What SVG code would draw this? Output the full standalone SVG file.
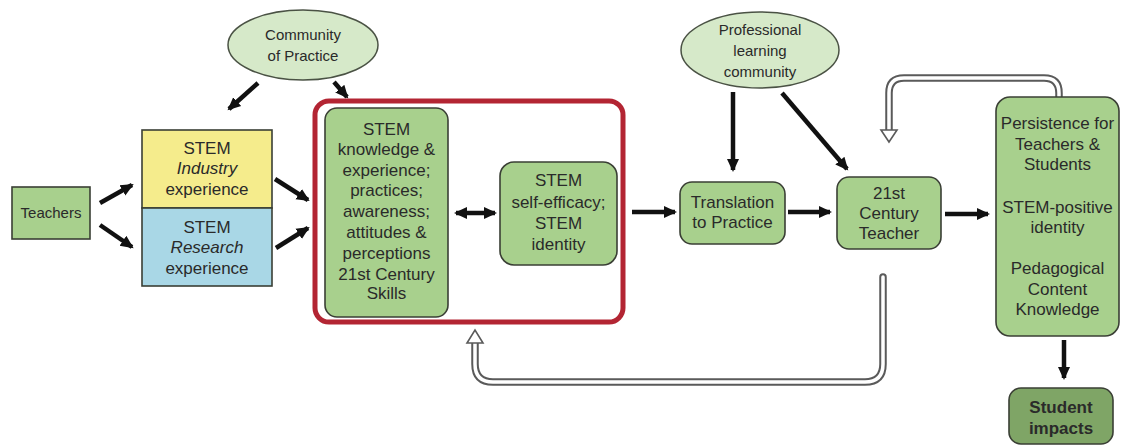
<svg xmlns="http://www.w3.org/2000/svg" width="1121" height="447" viewBox="0 0 1121 447">
<style>
text{font-family:"Liberation Sans",Arial,sans-serif;fill:#2a2a2a;text-anchor:middle}
.t17{font-size:17px}
.t15{font-size:15px}
.box{fill:#a8d08d;stroke:#3a3f35;stroke-width:1.6}
.ell{fill:#d6e9c9;stroke:#4a5244;stroke-width:1.5}
.arr{stroke:#111;stroke-width:4.5;fill:none;marker-end:url(#ah)}
.hout{fill:none;stroke:#5a5a5a;stroke-width:7.5;stroke-linecap:round}
.hin{fill:none;stroke:#fff;stroke-width:3.5;stroke-linecap:round}
.hhead{fill:#fff;stroke:#5a5a5a;stroke-width:1.6;stroke-linejoin:miter}
</style>
<defs>
<marker id="ah" markerUnits="userSpaceOnUse" markerWidth="14" markerHeight="14" viewBox="0 0 14 14" refX="11" refY="7" orient="auto">
<path d="M0,1 L13,7 L0,13 Z" fill="#111"/>
</marker>
<marker id="ahs" markerUnits="userSpaceOnUse" markerWidth="14" markerHeight="14" viewBox="0 0 14 14" refX="3" refY="7" orient="auto">
<path d="M14,1 L1,7 L14,13 Z" fill="#111"/>
</marker>
</defs>
<rect width="1121" height="447" fill="#fff"/>

<g id="connectors">
<line class="arr" x1="100" y1="203" x2="132" y2="185"/>
<line class="arr" x1="100" y1="225" x2="132" y2="247"/>
<line class="arr" x1="275" y1="179" x2="308" y2="200"/>
<line class="arr" x1="276" y1="248" x2="308" y2="228"/>
<line class="arr" x1="258" y1="83" x2="229" y2="109"/>
<line class="arr" x1="334" y1="82" x2="347" y2="97"/>
<line class="arr" x1="456" y1="213" x2="495" y2="213" marker-start="url(#ahs)"/>
<line class="arr" x1="632" y1="212" x2="675" y2="212"/>
<line class="arr" x1="788" y1="212" x2="830" y2="212"/>
<line class="arr" x1="945" y1="214" x2="988" y2="214"/>
<line class="arr" x1="733" y1="92" x2="733" y2="170"/>
<line class="arr" x1="782" y1="93" x2="847" y2="169"/>
<line class="arr" x1="1064" y1="340" x2="1064" y2="378"/>

<path class="hout" d="M1059,104 L1059,93 Q1059,78 1044,78 L904,78 Q889,78 889,93 L889,131"/>
<path class="hin" d="M1059,104 L1059,93 Q1059,78 1044,78 L904,78 Q889,78 889,93 L889,133"/>
<polygon class="hhead" points="881,130 897,130 889,142"/>

<path class="hout" d="M883,277 L883,364 Q883,382 865,382 L493,382 Q475,382 475,364 L475,343"/>
<path class="hin" d="M883,277 L883,364 Q883,382 865,382 L493,382 Q475,382 475,364 L475,341"/>
<polygon class="hhead" points="467,343 483,343 475,330"/>
</g>

<g id="community">
<ellipse class="ell" cx="303" cy="45" rx="75" ry="35"/>
<text class="t15" x="303" y="40">Community</text>
<text class="t15" x="303" y="61">of Practice</text>
</g>

<g id="plc">
<ellipse class="ell" cx="760" cy="50" rx="79" ry="38"/>
<text class="t15" x="760" y="35">Professional</text>
<text class="t15" x="760" y="56">learning</text>
<text class="t15" x="760" y="77">community</text>
</g>

<g id="teachers">
<rect x="12" y="187" width="78" height="52" fill="#a8d08d" stroke="#3a3f35" stroke-width="1.6"/>
<text class="t15" x="51" y="218">Teachers</text>
</g>

<g id="industry">
<rect x="142" y="130" width="130" height="78" fill="#f5ec8c" stroke="#3a3f35" stroke-width="1.6"/>
<text class="t17" x="207" y="154">STEM</text>
<text class="t17" x="207" y="174" font-style="italic">Industry</text>
<text class="t17" x="207" y="195">experience</text>
</g>

<g id="research">
<rect x="142" y="208" width="130" height="78" fill="#a9d7e6" stroke="#3a3f35" stroke-width="1.6"/>
<text class="t17" x="207" y="233">STEM</text>
<text class="t17" x="207" y="253" font-style="italic">Research</text>
<text class="t17" x="207" y="274">experience</text>
</g>

<g id="redgroup">
<rect x="315" y="101" width="308" height="221" rx="14" fill="none" stroke="#b32533" stroke-width="5"/>
</g>

<g id="knowledge">
<rect class="box" x="325" y="108" width="123" height="209" rx="12"/>
<text class="t17" x="386.5" y="135">STEM</text>
<text class="t17" x="386.5" y="155">knowledge &amp;</text>
<text class="t17" x="386.5" y="176">experience;</text>
<text class="t17" x="386.5" y="196">practices;</text>
<text class="t17" x="386.5" y="217">awareness;</text>
<text class="t17" x="386.5" y="238">attitudes &amp;</text>
<text class="t17" x="386.5" y="259">perceptions</text>
<text class="t17" x="386.5" y="280">21st Century</text>
<text class="t17" x="386.5" y="299">Skills</text>
</g>

<g id="selfefficacy">
<rect class="box" x="500" y="162" width="117" height="103" rx="14"/>
<text class="t17" x="558.5" y="186">STEM</text>
<text class="t17" x="558.5" y="208">self-efficacy;</text>
<text class="t17" x="558.5" y="229">STEM</text>
<text class="t17" x="558.5" y="250">identity</text>
</g>

<g id="translation">
<rect class="box" x="680" y="182" width="105" height="62" rx="12"/>
<text class="t17" x="732.5" y="208">Translation</text>
<text class="t17" x="732.5" y="228">to Practice</text>
</g>

<g id="teacher21">
<rect class="box" x="837" y="177" width="104" height="72" rx="12"/>
<text class="t17" x="889" y="199">21st</text>
<text class="t17" x="889" y="219">Century</text>
<text class="t17" x="889" y="239">Teacher</text>
</g>

<g id="persistence">
<rect class="box" x="996" y="97" width="123" height="239" rx="14"/>
<text class="t17" x="1057.5" y="129">Persistence for</text>
<text class="t17" x="1057.5" y="150">Teachers &amp;</text>
<text class="t17" x="1057.5" y="170">Students</text>
<text class="t17" x="1057.5" y="213">STEM-positive</text>
<text class="t17" x="1057.5" y="233">identity</text>
<text class="t17" x="1057.5" y="274">Pedagogical</text>
<text class="t17" x="1057.5" y="295">Content</text>
<text class="t17" x="1057.5" y="315">Knowledge</text>
</g>

<g id="studentimpacts">
<rect x="1009" y="388" width="104" height="56" rx="12" fill="#7fa566" stroke="#3a3f35" stroke-width="1.6"/>
<text class="t17" x="1061" y="413" font-weight="bold">Student</text>
<text class="t17" x="1061" y="434" font-weight="bold">impacts</text>
</g>
</svg>
